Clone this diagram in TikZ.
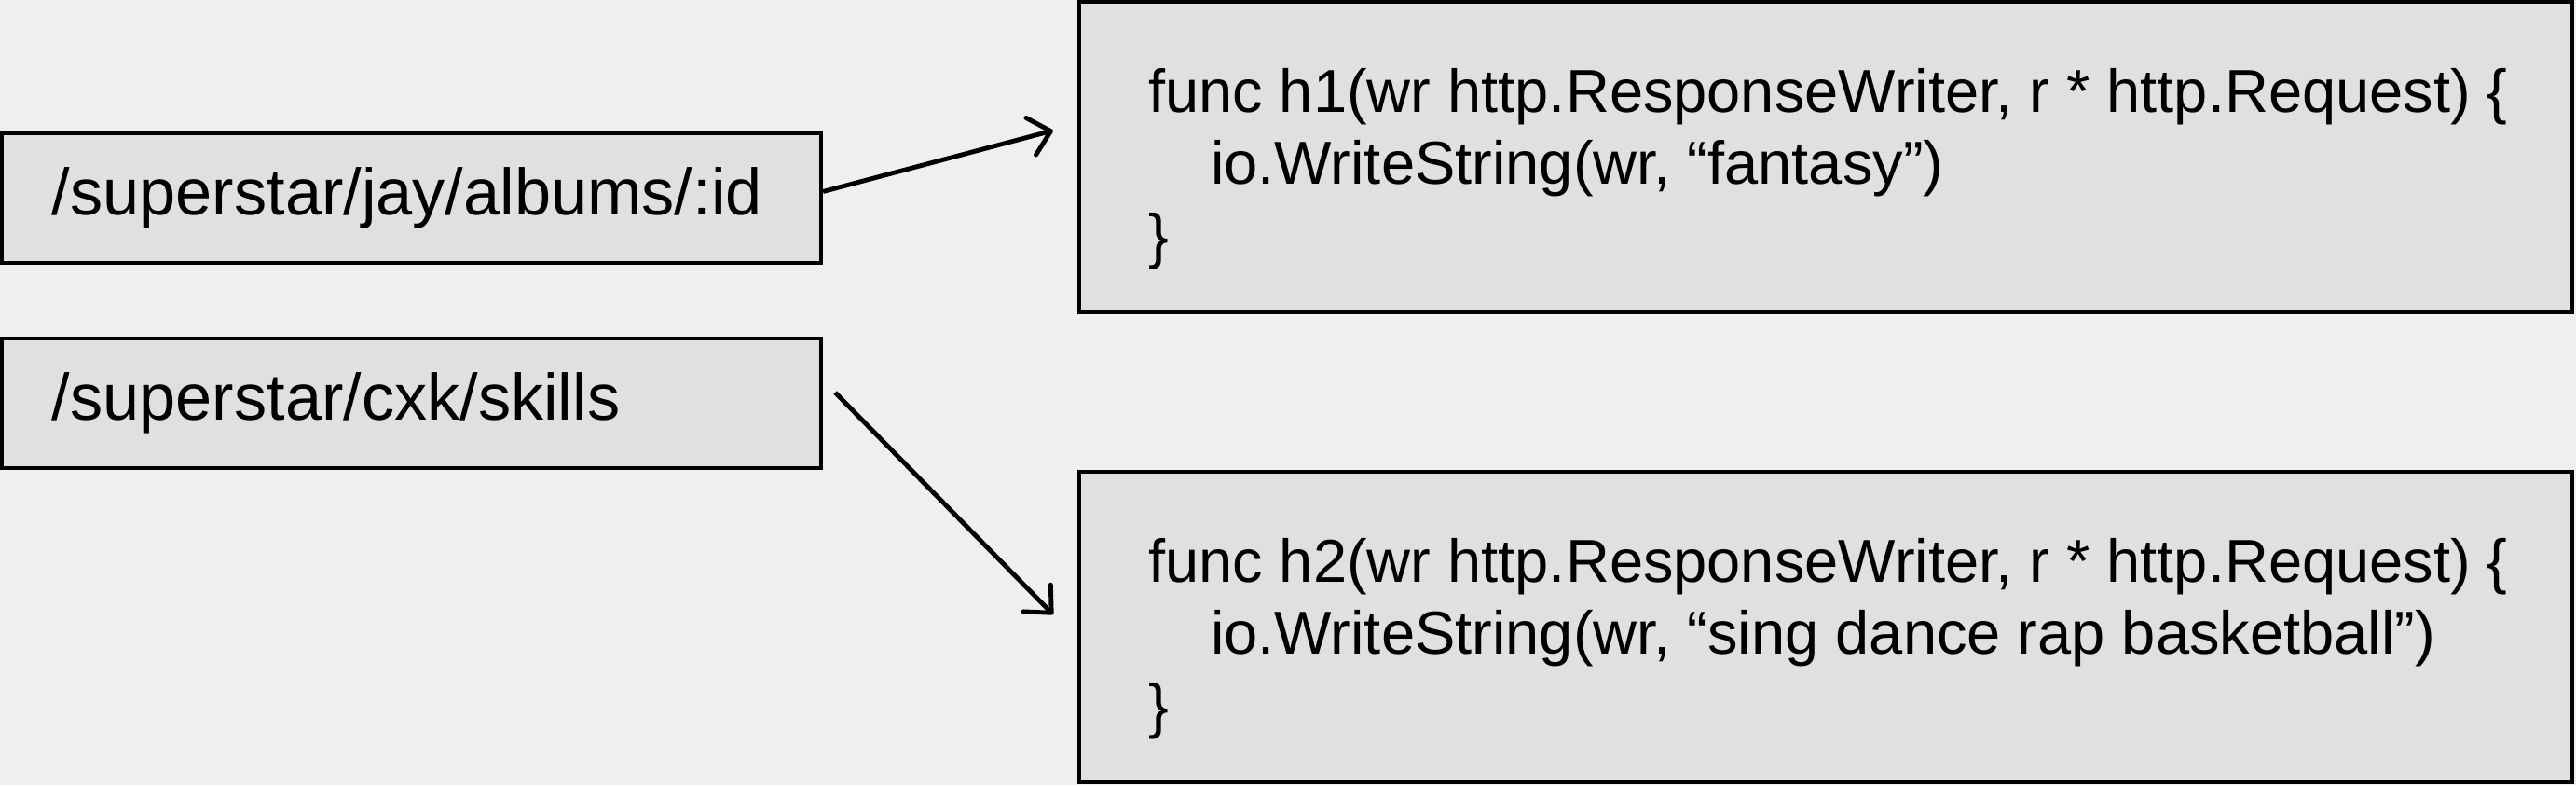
\documentclass[tikz,border=0pt]{standalone}
\usepackage{fontspec}
\setmainfont{Liberation Sans}
\usetikzlibrary{arrows.meta}
\definecolor{fondo}{RGB}{239,239,239}
\definecolor{caja}{RGB}{224,224,224}

\begin{document}
\begin{tikzpicture}[line width=1.2pt,>={Straight Barb[length=2.2mm,width=4.1mm,round]},
  ruta/.style={draw,fill=caja,minimum height=1.39cm,text width=7.71cm,align=left,
    inner xsep=0.54cm,inner ysep=0pt,font=\fontsize{20}{22}\selectfont},
  func/.style={draw,fill=caja,minimum width=16.02cm,minimum height=3.33cm},
  codigo/.style={anchor=west,align=left,inner sep=0pt,font=\fontsize{18.5}{22.1}\selectfont}]
  \fill[fondo] (0,0) rectangle (27.64,8.42);
  \useasboundingbox (0,0) rectangle (27.64,8.42);
  % rutas a la izquierda
  \node[ruta] (r1) at (4.415,6.295) {/superstar/jay/albums/:id};
  \node[ruta] (r2) at (4.415,4.095) {/superstar/cxk/skills};
  % manejadores a la derecha
  \node[func] (f1) at (19.59,6.735) {};
  \node[codigo] (c1) at ([xshift=0.74cm,yshift=-0.125cm]f1.west) {func h1(wr http.ResponseWriter, r * http.Request) \{\\
    \hspace*{0.67cm}io.WriteString(wr, “fantasy”)\\
    \}};
  \node[func] (f2) at (19.59,1.695) {};
  \node[codigo] (c2) at ([xshift=0.74cm,yshift=-0.125cm]f2.west) {func h2(wr http.ResponseWriter, r * http.Request) \{\\
    \hspace*{0.67cm}io.WriteString(wr, “sing dance rap basketball”)\\
    \}};
  \draw[->,line width=1.4pt] ([yshift=0.07cm]r1.east) -- ([xshift=-0.26cm,yshift=0.285cm]f1.west);
  \draw[->,line width=1.4pt] ([xshift=0.13cm,yshift=0.115cm]r2.east) -- ([xshift=-0.26cm,yshift=0.135cm]f2.west);
\end{tikzpicture}
\end{document}
